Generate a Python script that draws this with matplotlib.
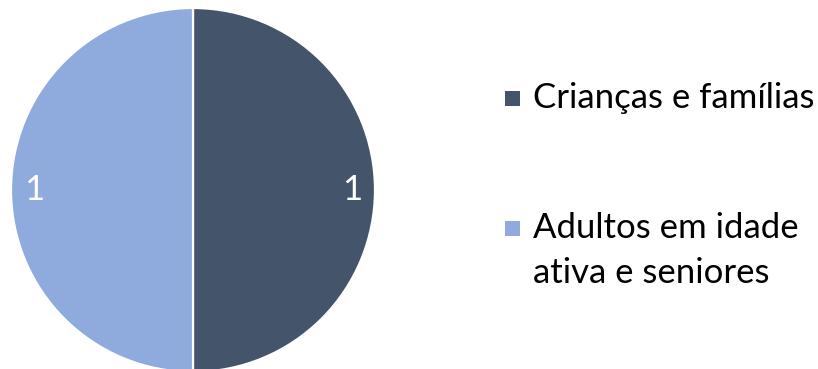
import matplotlib.pyplot as plt
from matplotlib.patches import Rectangle

categorias = ['Crianças e famílias', 'Adultos em idade\nativa e seniores']
valores = [1, 1]
cores = ['#44546A', '#8FAADC']

plt.rcParams['font.family'] = ['Lato', 'DejaVu Sans']

W, H = 818, 369
fig = plt.figure(figsize=(W / 100, H / 100), dpi=100)
ax = fig.add_axes([11 / W, -3 / H, 364 / W, 364 / H])

fatias, _, rotulos = ax.pie(valores, colors=cores, startangle=90, counterclock=False,
                            autopct=lambda pct: '{:d}'.format(round(pct / 100 * sum(valores))),
                            pctdistance=0.875, radius=1,
                            wedgeprops={'edgecolor': 'white', 'linewidth': 1.6})
for r in rotulos:
    r.set_color('white')
    r.set_fontsize(25)
ax.set_xlim(-1, 1)
ax.set_ylim(-1, 1)
ax.set_aspect('equal')

# legenda desenhada à mão: quadrado alinhado com a primeira linha do texto
topos = [98, 228]   # centro da primeira linha de cada entrada (px a partir do topo)
altura_linha = 45
for fatia, nome, y in zip(fatias, categorias, topos):
    fig.patches.append(Rectangle((505 / W, 1 - (y + 8) / H), 15 / W, 15 / H,
                                 transform=fig.transFigure, facecolor=fatia.get_facecolor(),
                                 edgecolor='none'))
    for i, linha in enumerate(nome.split('\n')):
        fig.text(533 / W, 1 - (y + i * altura_linha) / H, linha, fontsize=25,
                 va='center', ha='left', color='black')

fig.savefig('out.png', dpi=100)
